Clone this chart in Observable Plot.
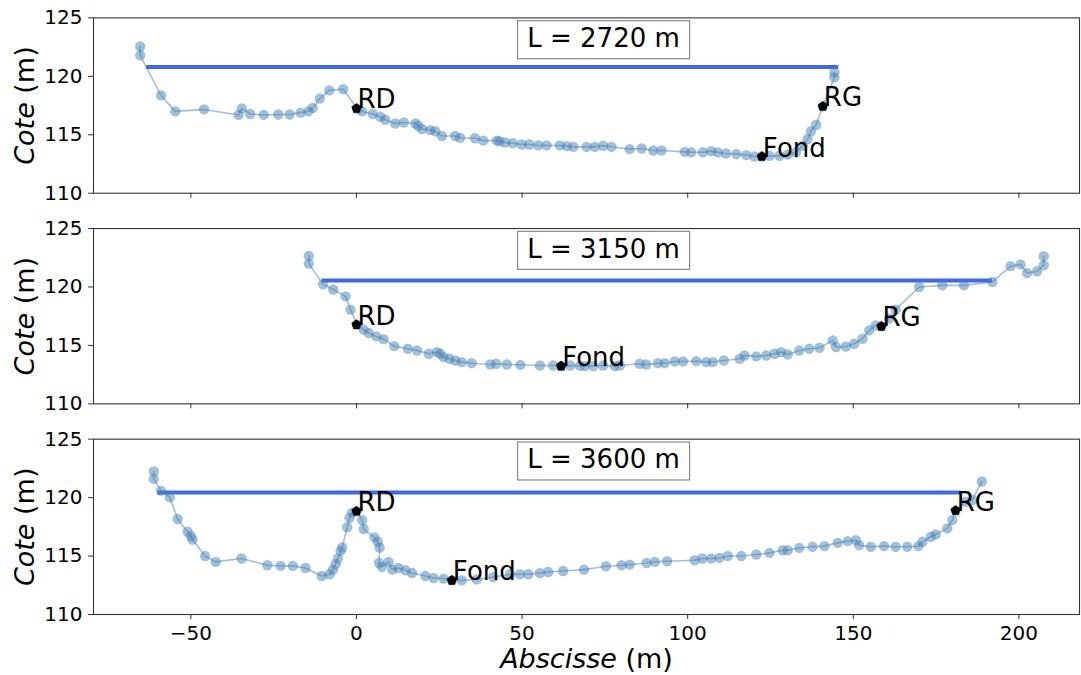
<!DOCTYPE html>
<html><head><meta charset="utf-8">
<script src="https://cdn.jsdelivr.net/npm/d3@7"></script>
<script src="https://cdn.jsdelivr.net/npm/@observablehq/plot@0.6"></script>
<style>
body{margin:0;background:#fff}
#chart svg{display:block}
</style>
</head><body><div id="chart"></div>
<script>
// ---------- data ----------
const profiles = ["L = 2720 m", "L = 3150 m", "L = 3600 m"];

const p2720X = [-65.3,-65.3,-59.0,-54.7,-46.0,-35.6,-34.6,-32.1,-28.0,-23.6,-20.2,-16.9,-14.5,-13.2,-11.05,-8.2,-4.0,0.3,1.7,4.9,7.2,8.7,11.7,14.3,17.8,18.6,19.8,22.3,23.8,25.8,29.8,31.3,35.8,38.3,42.4,43.2,44.9,47.2,49.9,52.2,54.9,57.4,61.4,63.5,65.5,69.5,72.0,74.5,77.0,82.5,86.1,89.6,92.1,99.1,101.1,104.6,107.1,109.1,111.6,114.7,117.7,120.2,122.4,124.7,127.7,130.2,132.7,134.7,136.2,137.2,138.8,140.8,144.3,144.3];
const p2720Y = [122.55,121.8,118.37,117.0,117.17,116.7,117.26,116.78,116.7,116.74,116.74,116.9,117.0,117.3,118.1,118.8,118.9,117.2,117.0,116.78,116.54,116.29,115.97,116.05,115.97,115.77,115.49,115.4,115.3,114.9,114.9,114.74,114.7,114.5,114.5,114.45,114.34,114.28,114.17,114.17,114.09,114.09,114.09,114.03,113.97,113.97,113.97,114.06,113.97,113.77,113.83,113.66,113.66,113.54,113.5,113.5,113.6,113.5,113.4,113.35,113.26,113.14,113.14,113.2,113.2,113.3,113.5,114.06,114.63,115.3,115.86,117.43,119.9,120.35];

const p3150X = [-14.4,-14.4,-10.1,-7.0,-3.3,-1.8,0.2,2.2,3.7,6.0,8.2,11.4,15.5,18.3,21.8,24.3,25.3,26.3,28.1,29.8,31.8,34.8,40.4,42.2,45.4,49.5,55.4,59.4,61.8,64.5,67.5,69.0,71.5,74.5,78.0,79.5,85.5,87.5,91.0,93.1,96.1,98.6,102.6,105.6,107.6,110.9,115.7,117.2,120.7,123.7,126.2,128.2,130.2,133.7,136.7,139.8,143.8,144.8,147.8,150.3,152.8,154.8,156.8,158.5,160.8,162.8,169.9,176.9,183.4,192.0,197.5,200.5,202.5,205.5,207.5,207.5];
const p3150Y = [122.66,122.0,120.23,119.78,119.2,118.06,116.77,116.35,116.06,115.77,115.54,114.94,114.71,114.57,114.29,114.43,114.29,114.0,113.86,113.71,113.57,113.48,113.37,113.43,113.37,113.34,113.28,113.28,113.23,113.28,113.25,113.23,113.23,113.28,113.23,113.28,113.43,113.37,113.48,113.48,113.63,113.63,113.66,113.57,113.57,113.71,113.86,114.14,114.06,114.14,114.29,114.43,114.23,114.57,114.71,114.8,115.43,114.86,114.91,115.14,115.57,116.29,116.71,116.63,117.29,118.06,120.0,120.14,120.14,120.43,121.78,121.93,121.2,121.35,121.86,122.63];

const p3600X = [-61.2,-61.2,-59.0,-56.4,-54.0,-51.0,-50.0,-49.5,-45.7,-42.5,-34.7,-26.9,-22.9,-19.2,-15.4,-10.5,-8.1,-7.1,-6.3,-5.6,-4.8,-4.3,-2.8,-2.1,-1.3,0.0,1.7,2.2,5.4,6.4,7.0,6.8,7.7,9.7,10.8,12.7,14.8,16.8,20.8,23.3,26.3,28.8,31.8,36.3,41.3,46.4,49.4,51.9,55.4,57.9,62.4,68.7,75.3,80.0,82.5,87.6,90.1,93.8,102.1,104.4,107.1,109.6,112.1,116.2,120.7,124.7,128.7,130.2,133.7,137.7,141.3,145.3,148.3,150.8,151.8,155.3,159.3,162.8,166.3,169.7,170.9,173.4,174.9,178.4,179.9,180.9,184.0,186.0,188.8];
const p3600Y = [122.24,121.6,120.58,120.03,118.17,117.08,116.71,116.42,115.0,114.5,114.79,114.21,114.16,114.16,113.98,113.29,113.44,113.84,114.3,114.79,115.44,115.73,117.46,118.28,118.71,118.83,118.08,117.31,116.6,116.22,115.73,114.41,114.07,114.5,113.84,113.98,113.78,113.55,113.29,113.12,113.07,112.92,112.92,113.0,113.21,113.44,113.44,113.44,113.55,113.64,113.72,113.84,114.13,114.21,114.27,114.41,114.5,114.56,114.64,114.79,114.79,114.84,115.0,115.0,115.13,115.27,115.5,115.5,115.7,115.79,115.85,116.13,116.28,116.36,115.93,115.79,115.85,115.79,115.79,115.85,116.22,116.65,116.85,117.37,118.08,118.89,119.66,119.8,121.38];

const keyNames = ["RD", "Fond", "RG"];
const key2720X = [0, 122.4, 140.8];
const key2720Y = [117.25, 113.14, 117.43];
const key3150X = [0, 61.8, 158.5];
const key3150Y = [116.77, 113.23, 116.63];
const key3600X = [0, 28.8, 180.9];
const key3600Y = [118.83, 112.92, 118.89];

const waterLevel = [120.8, 120.55, 120.43];
const waterStart = [-63.4, -10.3, -60.0];
const waterEnd = [145.6, 192.0, 182.4];

const xTicks = [-50, 0, 50, 100, 150, 200];
const yTicks = [110, 115, 120, 125];

// ---------- tables ----------
const seriesX = [p2720X, p3150X, p3600X];
const seriesY = [p2720Y, p3150Y, p3600Y];
const keysX = [key2720X, key3150X, key3600X];
const keysY = [key2720Y, key3150Y, key3600Y];

const survey = profiles.flatMap((p, i) => seriesX[i].map((x, j) => ({profile: p, x, y: seriesY[i][j]})));
const keys = profiles.flatMap((p, i) => keyNames.map((n, j) => ({profile: p, name: n, x: keysX[i][j], y: keysY[i][j]})));
const water = profiles.map((p, i) => ({profile: p, level: waterLevel[i], start: waterStart[i], end: waterEnd[i]}));

const BOX_X = 74.6;
const FONT = "DejaVu Sans";

const pentagon = {
  draw(ctx, size) {
    const R = Math.sqrt(size / Math.PI) * 1.06;
    for (let k = 0; k < 5; k++) {
      const a = -Math.PI / 2 + k * 2 * Math.PI / 5;
      const px = R * Math.cos(a), py = R * Math.sin(a);
      if (k) ctx.lineTo(px, py); else ctx.moveTo(px, py);
    }
    ctx.closePath();
  }
};

const fmt = d => d < 0 ? "\u2212" + Math.abs(d) : String(d);

const chart = Plot.plot({
  width: 1081,
  height: 675,
  marginLeft: 93,
  marginRight: 2,
  marginTop: 17.4,
  marginBottom: 61,
  style: {fontFamily: FONT, fontSize: "20px", color: "#000", background: "#fff"},
  x: {domain: [-79.4, 218.3]},
  y: {domain: [110, 125]},
  fy: {domain: profiles, axis: null, paddingInner: 0.1676, paddingOuter: 0, round: false},
  marks: [
    Plot.ruleY(water, {fy: "profile", y: "level", x1: "start", x2: "end", stroke: "#4169e1", strokeWidth: 4}),
    Plot.line(survey, {fy: "profile", x: "x", y: "y", stroke: "steelblue", strokeOpacity: 0.5, strokeWidth: 1.6}),
    Plot.dot(survey, {fy: "profile", x: "x", y: "y", r: 5.2, fill: "steelblue", fillOpacity: 0.5}),
    Plot.dot(keys, {fy: "profile", x: "x", y: "y", r: 5, fill: "black", symbol: pentagon}),
    Plot.text(keys, {fy: "profile", x: "x", y: "y", text: "name", textAnchor: "start", lineAnchor: "bottom", dx: 1, fontSize: 26, fill: "black"}),
    Plot.text(profiles, {fy: d => d, x: () => BOX_X, frameAnchor: "top", text: d => d, textAnchor: "middle", lineAnchor: "bottom", dy: 29.3, fontSize: 26, fill: "black"}),
    Plot.text(profiles, {fy: d => d, frameAnchor: "left", text: () => "Cote (m)", rotate: -90, dx: -60, textAnchor: "middle", lineAnchor: "bottom", fontSize: 27, fill: "black"}),
    Plot.text([profiles[2]], {fy: d => d, frameAnchor: "bottom", text: () => "Abscisse (m)", dy: 53.3, textAnchor: "middle", lineAnchor: "bottom", fontSize: 27, fill: "black"}),
    Plot.axisY({ticks: yTicks, tickSize: 5, tickPadding: 6, label: null, fontSize: 20, stroke: "#333"}),
    Plot.axisX({ticks: xTicks, tickSize: 5, tickFormat: () => "", label: null, facetAnchor: null, stroke: "#333"}),
    Plot.axisX({ticks: xTicks, tickSize: 0, tickPadding: 11, tickFormat: fmt, label: null, fontSize: 20}),
    Plot.frame({stroke: "#333", strokeWidth: 1.1})
  ]
});

document.getElementById("chart").append(chart);

// ---------- post-processing: italics and label boxes ----------
const NS = "http://www.w3.org/2000/svg";
for (const t of chart.querySelectorAll("text")) {
  const s = t.textContent;
  if (s === "Cote (m)" || s === "Abscisse (m)") {
    const i = s.indexOf(" ");
    t.textContent = "";
    const a = document.createElementNS(NS, "tspan");
    a.setAttribute("font-style", "italic");
    a.textContent = s.slice(0, i);
    const b = document.createElementNS(NS, "tspan");
    b.textContent = "\u00a0" + s.slice(i + 1);
    t.append(a, b);
  } else if (s.startsWith("L = ")) {
    const bb = t.getBBox();
    const r = document.createElementNS(NS, "rect");
    const w = 172;
    r.setAttribute("x", bb.x + bb.width / 2 - w / 2);
    r.setAttribute("y", bb.y - 2.5);
    r.setAttribute("width", w);
    r.setAttribute("height", bb.height + 8);
    r.setAttribute("fill", "white");
    r.setAttribute("stroke", "#888");
    r.setAttribute("stroke-width", 1.2);
    if (t.getAttribute("transform")) r.setAttribute("transform", t.getAttribute("transform"));
    t.parentNode.insertBefore(r, t);
  }
}
</script>
</body></html>
